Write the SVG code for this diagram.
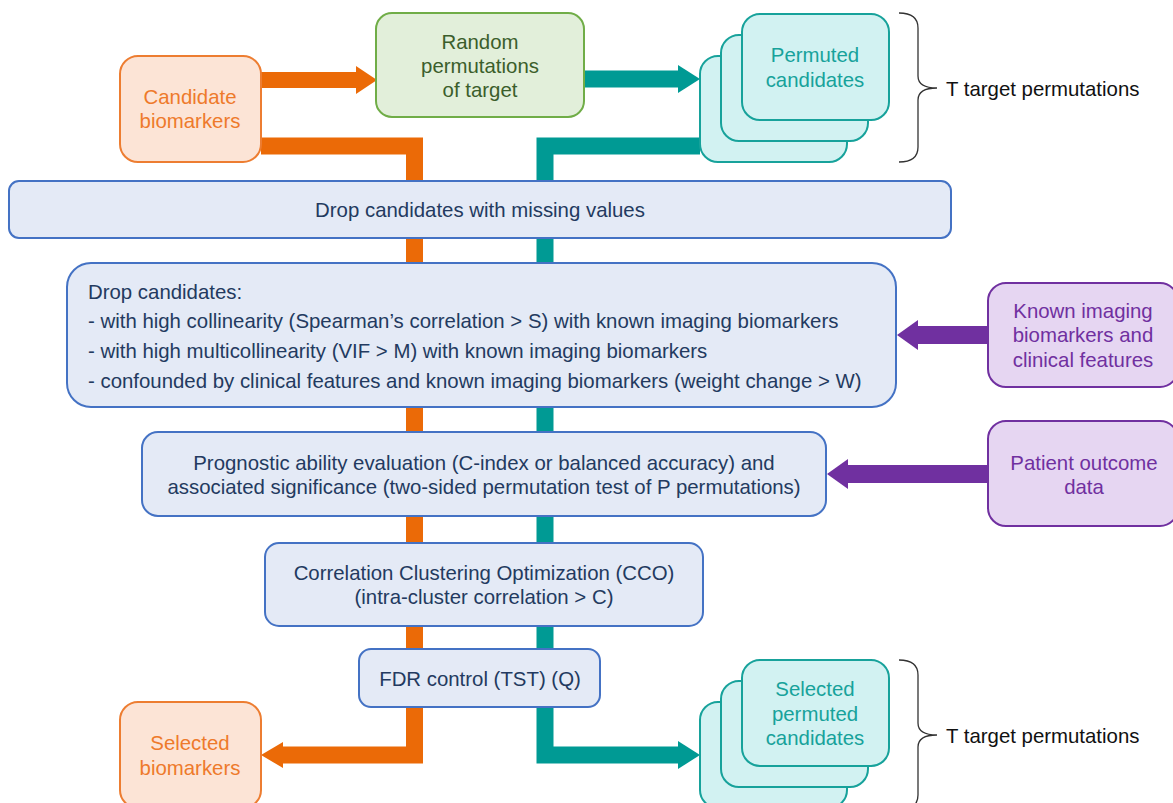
<svg xmlns="http://www.w3.org/2000/svg" width="1173" height="803" viewBox="0 0 1173 803">
<style>
text{font-family:"Liberation Sans",Arial,sans-serif;font-size:20.4px}
.c{text-anchor:middle}
.blue rect{fill:#E4EAF6;stroke:#4472C4;stroke-width:2}
.blue text{fill:#233A60}
.orange rect{fill:#FCE4D6;stroke:#ED7D31;stroke-width:2}
.orange text{fill:#EE7A2B}
.teal rect{fill:#D2F2F2;stroke:#17A29B;stroke-width:2}
.teal text{fill:#17A29B}
.purple rect{fill:#E6D6F2;stroke:#7030A0;stroke-width:2}
.purple text{fill:#7030A0}
.green rect{fill:#E2EFDA;stroke:#70AD47;stroke-width:2}
.green text{fill:#3B5E2B}
.brace{fill:none;stroke:#333;stroke-width:1.3}
.lbl{fill:#111}
</style>
<g id="connectors">
  <path d="M261,80 H357" stroke="#EB6A07" stroke-width="16" fill="none"/>
  <polygon points="356,66 377,80 356,94" fill="#EB6A07"/>
  <path d="M584,79 H679" stroke="#009A94" stroke-width="17" fill="none"/>
  <polygon points="678,65 700,79 678,93" fill="#009A94"/>
  <path d="M261,146 H414.5 V755 H283" stroke="#EB6A07" stroke-width="17" fill="none"/>
  <polygon points="283,742 261,755 283,768" fill="#EB6A07"/>
  <path d="M700,146 H545 V755 H679" stroke="#009A94" stroke-width="17" fill="none"/>
  <polygon points="678,741 700,755 678,769" fill="#009A94"/>
  <path d="M988,335 H917" stroke="#7030A0" stroke-width="18" fill="none"/>
  <polygon points="918,320 897,335 918,350" fill="#7030A0"/>
  <path d="M988,474 H847" stroke="#7030A0" stroke-width="18" fill="none"/>
  <polygon points="848,459 827,474 848,489" fill="#7030A0"/>
</g>
<g id="candidate" class="orange">
  <rect x="120" y="56" width="141" height="106" rx="18"/>
  <text class="c" x="190" y="104">Candidate</text>
  <text class="c" x="190" y="128">biomarkers</text>
</g>
<g id="random" class="green">
  <rect x="376" y="13" width="208" height="104" rx="16"/>
  <text class="c" x="480" y="49">Random</text>
  <text class="c" x="480" y="73">permutations</text>
  <text class="c" x="480" y="97">of target</text>
</g>
<g id="permuted" class="teal">
  <rect x="700" y="56" width="147" height="106" rx="18"/>
  <rect x="721" y="35" width="147" height="106" rx="18"/>
  <rect x="742" y="14" width="147" height="106" rx="18"/>
  <text class="c" x="815" y="62">Permuted</text>
  <text class="c" x="815" y="87">candidates</text>
</g>
<g id="brace-top">
  <path class="brace" d="M899,13 Q918,13 918,28 V76 Q918,88 937,88 Q918,88 918,100 V147 Q918,162 899,162"/>
  <text class="lbl" x="946" y="96">T target permutations</text>
</g>
<g id="drop-missing" class="blue">
  <rect x="9" y="181" width="942" height="57" rx="10"/>
  <text class="c" x="480" y="217">Drop candidates with missing values</text>
</g>
<g id="drop-candidates" class="blue">
  <rect x="67" y="263" width="829" height="144" rx="24"/>
  <text x="88" y="299">Drop candidates:</text>
  <text x="88" y="328">- with high collinearity (Spearman’s correlation &gt; S) with known imaging biomarkers</text>
  <text x="88" y="358">- with high multicollinearity (VIF &gt; M) with known imaging biomarkers</text>
  <text x="88" y="388">- confounded by clinical features and known imaging biomarkers (weight change &gt; W)</text>
</g>
<g id="known" class="purple">
  <rect x="988" y="283" width="190" height="104" rx="18"/>
  <text class="c" x="1083" y="318">Known imaging</text>
  <text class="c" x="1083" y="342">biomarkers and</text>
  <text class="c" x="1083" y="367">clinical features</text>
</g>
<g id="prognostic" class="blue">
  <rect x="142" y="432" width="684" height="84" rx="16"/>
  <text class="c" x="484" y="470">Prognostic ability evaluation (C-index or balanced accuracy) and</text>
  <text class="c" x="484" y="494">associated significance (two-sided permutation test of P permutations)</text>
</g>
<g id="outcome" class="purple">
  <rect x="988" y="421" width="190" height="105" rx="18"/>
  <text class="c" x="1084" y="470">Patient outcome</text>
  <text class="c" x="1084" y="494">data</text>
</g>
<g id="cco" class="blue">
  <rect x="265" y="543" width="438" height="83" rx="14"/>
  <text class="c" x="484" y="580">Correlation Clustering Optimization (CCO)</text>
  <text class="c" x="484" y="604">(intra-cluster correlation &gt; C)</text>
</g>
<g id="fdr" class="blue">
  <rect x="359" y="649" width="241" height="58" rx="12"/>
  <text class="c" x="480" y="686">FDR control (TST) (Q)</text>
</g>
<g id="selected" class="orange">
  <rect x="120" y="702" width="141" height="106" rx="18"/>
  <text class="c" x="190" y="750">Selected</text>
  <text class="c" x="190" y="775">biomarkers</text>
</g>
<g id="selected-permuted" class="teal">
  <rect x="700" y="702" width="147" height="106" rx="18"/>
  <rect x="721" y="681" width="147" height="106" rx="18"/>
  <rect x="742" y="660" width="147" height="106" rx="18"/>
  <text class="c" x="815" y="696">Selected</text>
  <text class="c" x="815" y="721">permuted</text>
  <text class="c" x="815" y="745">candidates</text>
</g>
<g id="brace-bottom">
  <path class="brace" d="M899,660 Q918,660 918,675 V723 Q918,735 937,735 Q918,735 918,747 V795 Q918,810 899,810"/>
  <text class="lbl" x="946" y="743">T target permutations</text>
</g>
</svg>
